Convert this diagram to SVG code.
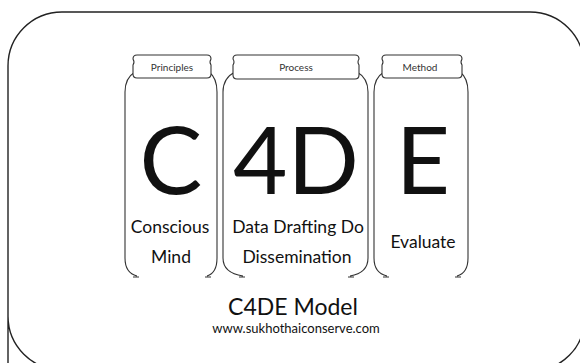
<svg xmlns="http://www.w3.org/2000/svg" width="580" height="363" viewBox="0 0 580 363">
<defs>
<style>
.frame{fill:none;stroke:#222;stroke-width:1.4}
.jar{fill:none;stroke:#333;stroke-width:1.1}
.tab{fill:#fff;stroke:#333;stroke-width:1.1}
text{font-family:Lato,"Open Sans",sans-serif;fill:#111;text-anchor:middle}
.big{font-size:94px}
.lbl{font-size:17.5px}
.tabt{font-size:10px;fill:#333}
.title{font-size:23px}
.url{font-size:13px}
</style>
</defs>
<rect width="580" height="363" fill="#fff"/>
<path class="frame" d="M8,380 V66 A54,54 0 0 1 62,12 H530 A54,54 0 0 1 584,66 V320 A50,50 0 0 1 534,370 H62 A54,54 0 0 1 8,316 Z"/>
<g id="principles">
<path class="jar" d="M135,72 Q125,78 125,92 V258 Q125,273 137,276 M133,277 H139 M209,72 Q217,78 217,92 V258 Q217,273 207,276 M205,277 H211"/>
<path class="tab" d="M137,55 H207 Q211,55 211,59 Q209,62 211,65 V74 Q211,78 207,78 H137 Q133,78 133,74 V65 Q135,62 133,59 Q133,55 137,55 Z"/>
<text class="tabt" x="172" y="71">Principles</text>
<text class="big" x="171" y="194">C</text>
<text class="lbl" x="170" y="233">Conscious</text>
<text class="lbl" x="171" y="263">Mind</text>
</g>
<g id="process">
<path class="jar" d="M235,72 Q223,78 223,92 V258 Q223,273 243,276 M239,277 H245 M357,72 Q368,78 368,92 V258 Q368,273 350,276 M348,277 H354"/>
<path class="tab" d="M237,55 H355 Q359,55 359,59 Q357,62 359,65 V75 Q359,79 355,79 H237 Q233,79 233,75 V65 Q235,62 233,59 Q233,55 237,55 Z"/>
<text class="tabt" x="296" y="71">Process</text>
<text class="big" x="296" y="194">4D</text>
<text class="lbl" x="298" y="233">Data Drafting Do</text>
<text class="lbl" x="297" y="263">Dissemination</text>
</g>
<g id="method">
<path class="jar" d="M384,72 Q374,78 374,92 V258 Q374,273 387,276 M383,277 H389 M460,72 Q468,78 468,92 V258 Q468,273 457,276 M455,277 H461"/>
<path class="tab" d="M386,55 H458 Q462,55 462,59 Q460,62 462,65 V74 Q462,78 458,78 H386 Q382,78 382,74 V65 Q384,62 382,59 Q382,55 386,55 Z"/>
<text class="tabt" x="420" y="71">Method</text>
<text class="big" x="423" y="194">E</text>
<text class="lbl" x="423" y="248">Evaluate</text>
</g>
<g id="connectors"></g>
<g id="caption">
<text class="title" x="293" y="315">C4DE Model</text>
<text class="url" x="296" y="333">www.sukhothaiconserve.com</text>
</g>
</svg>
